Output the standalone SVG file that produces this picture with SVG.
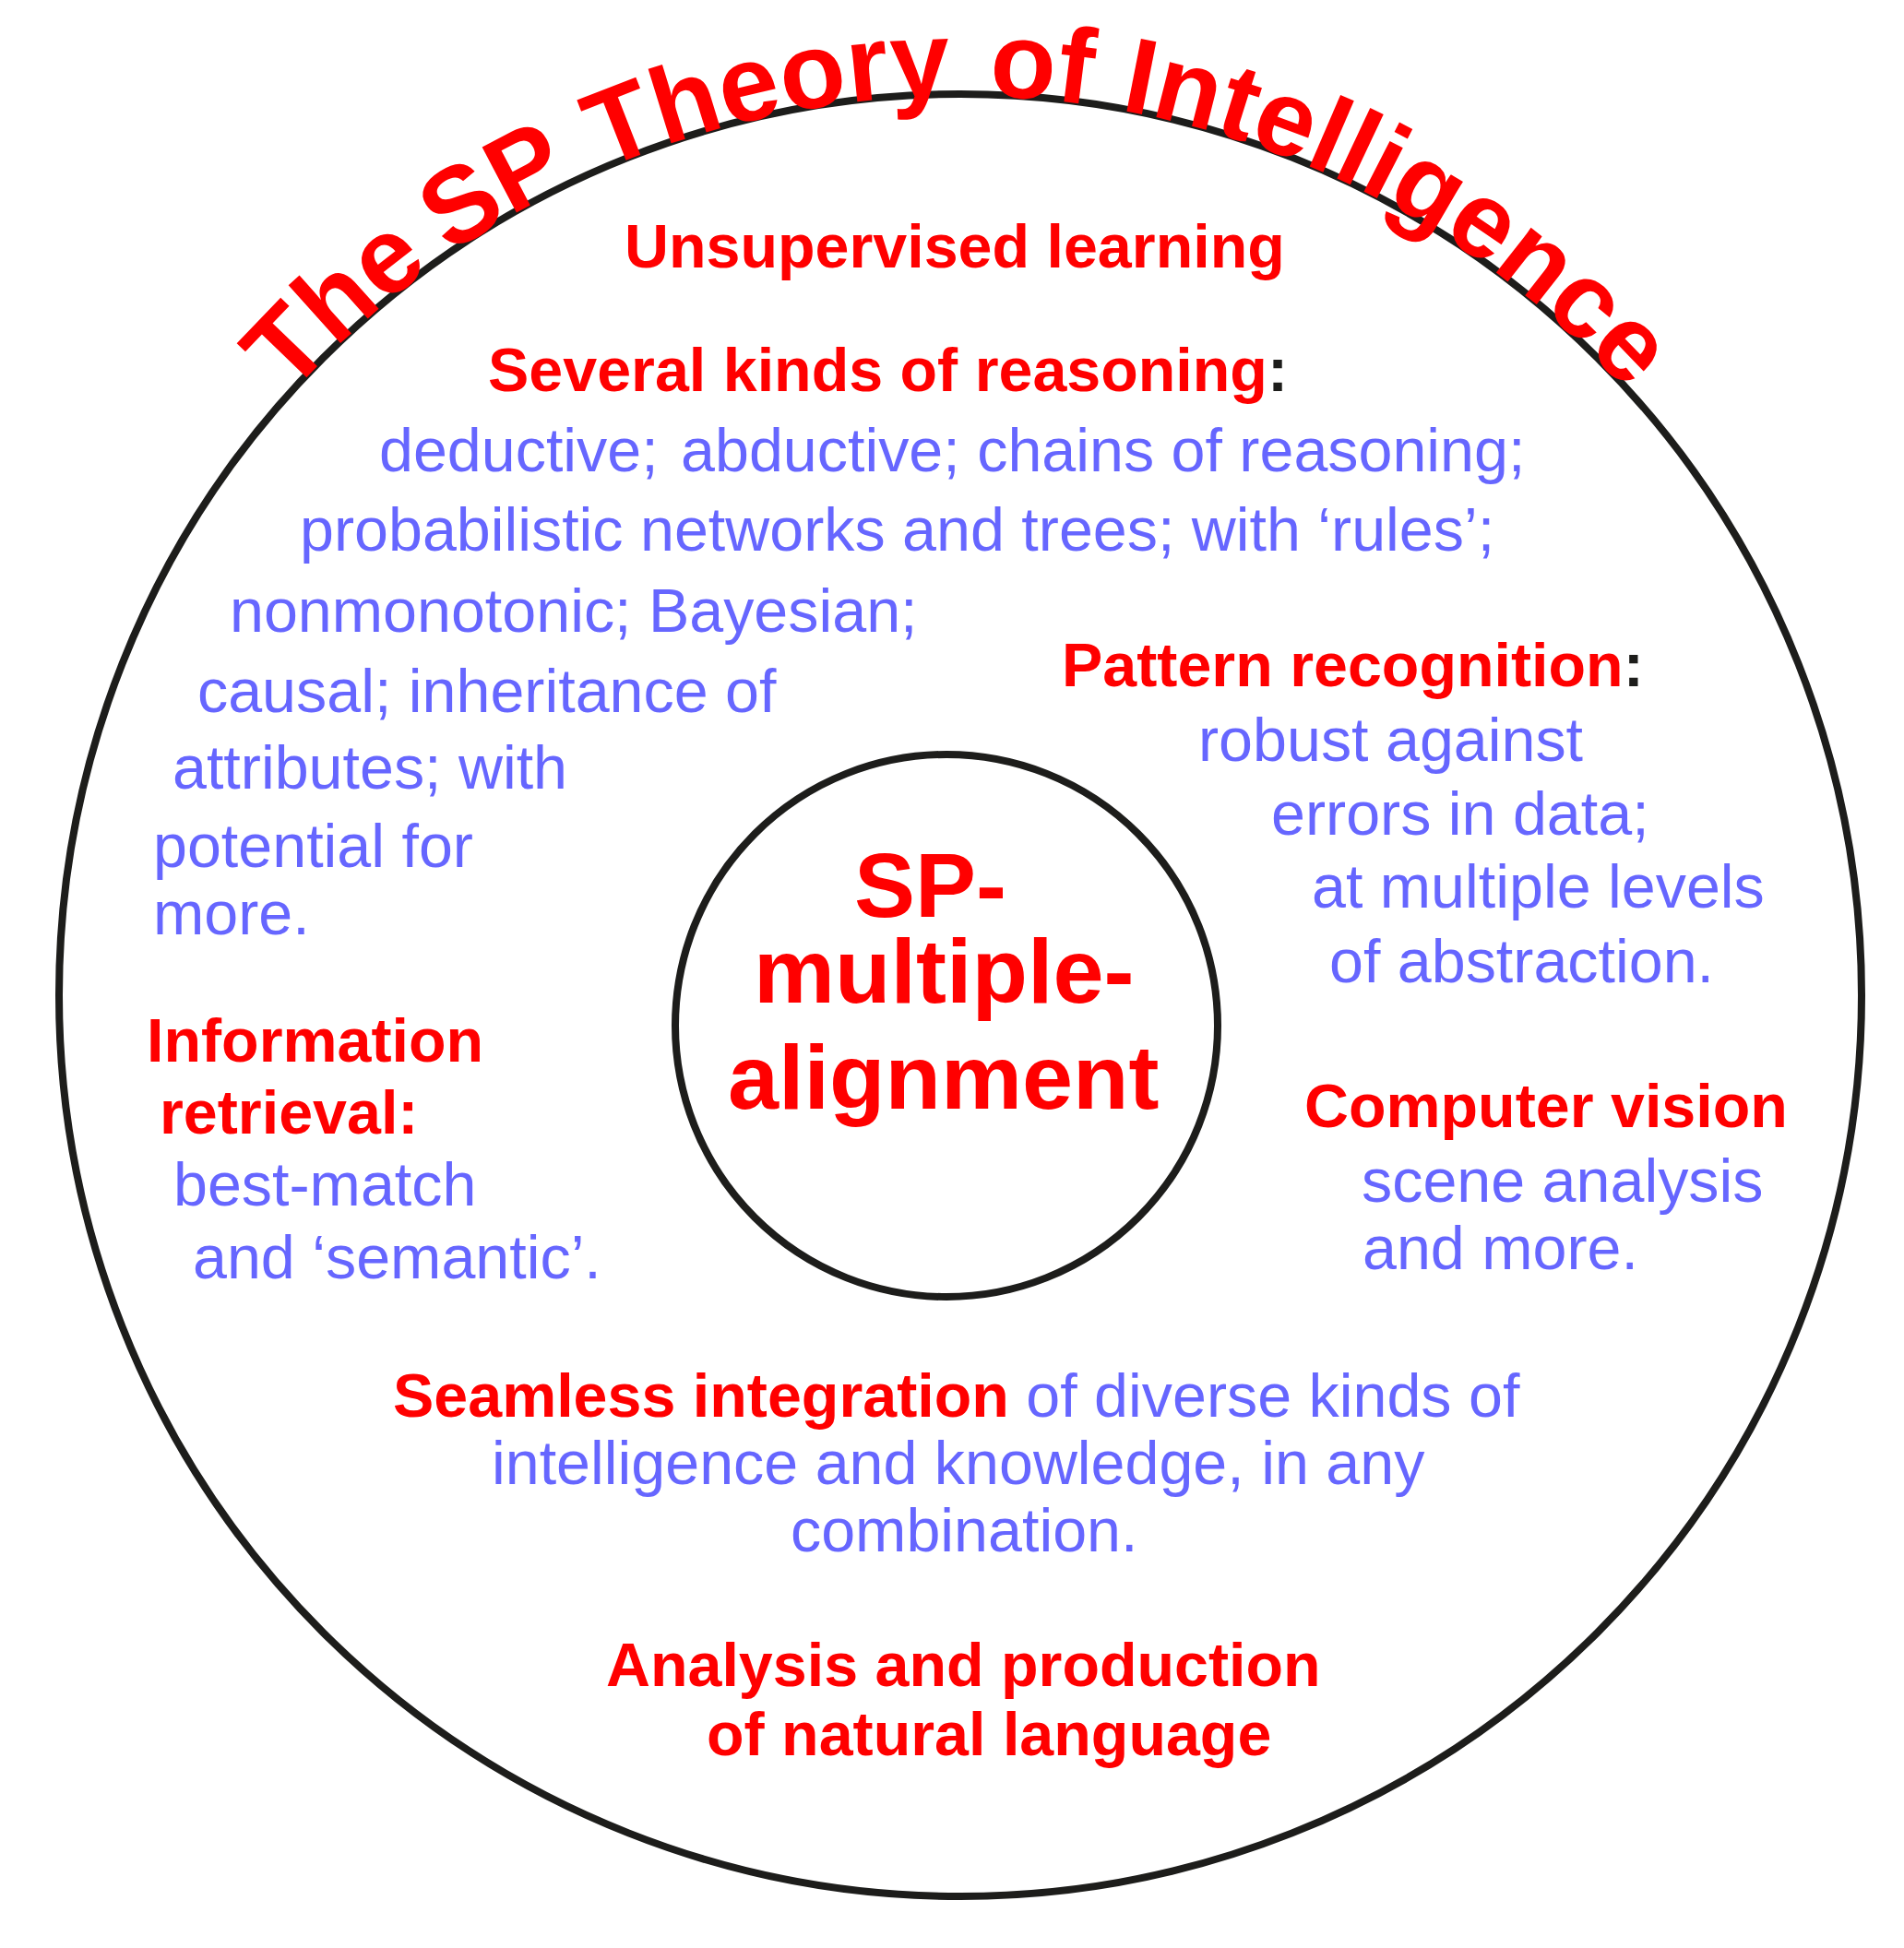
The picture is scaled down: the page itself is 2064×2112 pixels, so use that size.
<svg xmlns="http://www.w3.org/2000/svg" xmlns:xlink="http://www.w3.org/1999/xlink" width="2064" height="2112" viewBox="0 0 2064 2112">
<style>
text{font-family:"Liberation Sans",Arial,Helvetica,sans-serif;font-size:66.4px}
.r{fill:#ff0000;font-weight:bold}
.b{fill:#6666ff}
.k{fill:#1d1d1b;font-weight:bold}
.ring{fill:none;stroke:#1d1d1b;stroke-width:8}
.title{font-size:116.5px;font-weight:bold;fill:#ff0000}
.core{font-size:99px;font-weight:bold;fill:#ff0000}
</style>
<defs>
<path id="arc" d="M 66 1079 A 975 975 0 0 1 2016 1079"/>
</defs>
<rect width="2064" height="2112" fill="#ffffff"/>
<g id="outer-circle">
<circle class="ring" cx="1041" cy="1079" r="977"/>
<g id="title">
<text class="title"><textPath xlink:href="#arc" href="#arc" startOffset="711">The</textPath></text>
<text class="title"><textPath xlink:href="#arc" href="#arc" startOffset="943">SP</textPath></text>
<text class="title"><textPath xlink:href="#arc" href="#arc" startOffset="1133">Theory</textPath></text>
<text class="title"><textPath xlink:href="#arc" href="#arc" startOffset="1562">of</textPath></text>
<text class="title"><textPath xlink:href="#arc" href="#arc" startOffset="1705">Intelligence</textPath></text>
</g>
</g>
<g id="connectors"></g>
<g id="unsupervised-learning">
<text class="r" x="677" y="290">Unsupervised learning</text>
</g>
<g id="reasoning">
<text x="529" y="424"><tspan class="r">Several kinds of reasoning</tspan><tspan class="k">:</tspan></text>
<text class="b" x="411" y="511">deductive; <tspan dx="6">abductive; chains of reasoning;</tspan></text>
<text class="b" x="325" y="597">probabilistic networks and trees; with ‘rules’;</text>
<text class="b" x="249" y="685">nonmonotonic; Bayesian;</text>
<text class="b" x="214" y="772">causal; inheritance of</text>
<text class="b" x="187" y="855">attributes; with</text>
<text class="b" x="166" y="940">potential for</text>
<text class="b" x="166" y="1013">more.</text>
</g>
<g id="information-retrieval">
<text class="r" x="159" y="1151">Information</text>
<text class="r" x="173" y="1229">retrieval:</text>
<text class="b" x="188" y="1307">best-match</text>
<text class="b" x="209" y="1386">and ‘semantic’.</text>
</g>
<g id="pattern-recognition">
<text x="1151" y="744"><tspan class="r">Pattern recognition</tspan><tspan class="k">:</tspan></text>
<text class="b" x="1299" y="825">robust against</text>
<text class="b" x="1378" y="905">errors in data;</text>
<text class="b" x="1422" y="984">at multiple levels</text>
<text class="b" x="1441" y="1065">of abstraction.</text>
</g>
<g id="computer-vision">
<text class="r" x="1414" y="1222">Computer vision</text>
<text class="b" x="1476" y="1303">scene analysis</text>
<text class="b" x="1477" y="1376">and more.</text>
</g>
<g id="sp-multiple-alignment">
<circle class="ring" cx="1026" cy="1112" r="294"/>
<text class="core" x="926" y="994">SP-</text>
<text class="core" x="817" y="1087">multiple-</text>
<text class="core" x="789" y="1202">alignment</text>
</g>
<g id="seamless-integration">
<text x="426" y="1536"><tspan class="r">Seamless integration</tspan><tspan class="b"> of diverse kinds of</tspan></text>
<text class="b" x="533" y="1609">intelligence and knowledge, in any</text>
<text class="b" x="857" y="1682">combination.</text>
</g>
<g id="natural-language">
<text class="r" x="657" y="1828">Analysis and production</text>
<text class="r" x="766" y="1903">of natural language</text>
</g>
</svg>
